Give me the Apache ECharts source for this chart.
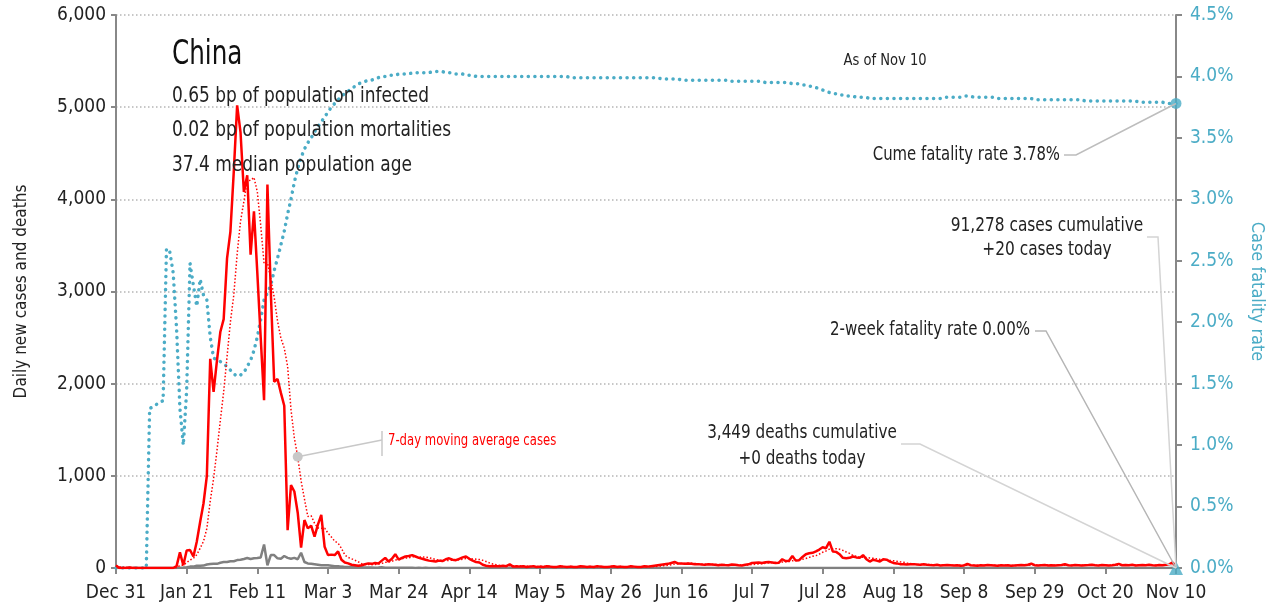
<!DOCTYPE html>
<html>
<head>
<meta charset="utf-8">
<title>China</title>
<script src="https://cdn.jsdelivr.net/npm/echarts@6/dist/echarts.min.js"></script>
<style>
  html, body { margin: 0; padding: 0; background: #fff; }
  #main { width: 1274px; height: 610px; }
</style>
</head>
<body>
<div id="main"></div>
<script>
// one category per day, 2019-12-31 .. 2020-11-10
var monthNames = ['Jan','Feb','Mar','Apr','May','Jun','Jul','Aug','Sep','Oct','Nov','Dec'];
var dates = [];
var d0 = new Date(2019, 11, 31);
for (var i = 0; i < 316; i++) {
    var dt = new Date(d0.getFullYear(), d0.getMonth(), d0.getDate() + i);
    dates.push(monthNames[dt.getMonth()] + ' ' + dt.getDate());
}

// daily new cases
var cases = [
    27,0,0,0,5,0,0,0,0,0,
    0,0,0,0,0,0,0,0,20,170,
    30,190,195,125,285,500,700,1000,2270,1910,
    2250,2560,2700,3360,3650,4300,5020,4730,4080,4260,
    3400,3870,3200,2500,1820,4160,3000,2020,2050,1900,
    1760,410,900,830,600,220,520,430,460,340,
    470,575,230,140,145,140,180,90,60,50,
    35,30,25,30,40,50,45,55,50,80,
    110,70,100,150,90,110,125,130,140,125,
    110,100,90,80,75,70,80,75,95,105,
    90,85,100,115,125,100,80,65,60,35,
    25,20,22,18,20,25,20,40,15,20,
    15,18,12,15,20,10,15,12,18,15,
    10,12,20,15,10,15,12,10,18,15,
    12,15,10,20,15,12,10,15,18,12,
    15,10,12,20,15,10,12,18,15,20,
    25,30,35,40,45,55,65,50,48,45,
    50,45,40,42,38,35,40,38,35,30,
    35,32,30,38,35,30,28,35,40,55,
    58,60,55,62,65,60,55,58,95,75,
    78,130,80,85,120,150,160,165,180,200,
    225,215,285,180,175,150,110,105,110,125,
    115,110,140,95,70,90,80,70,95,90,
    70,55,50,42,40,38,40,42,38,35,
    40,35,32,30,35,28,30,32,30,28,
    30,25,28,45,30,28,25,30,28,32,
    30,28,25,30,28,30,25,28,30,32,
    30,35,48,30,28,30,32,28,30,28,
    30,32,40,30,28,32,30,28,30,32,
    35,30,28,32,30,28,30,35,45,30,
    32,30,35,28,30,32,30,35,30,28,
    32,30,35,40,60,20
];

// daily new deaths
var deaths = [
    0,0,0,0,0,0,0,0,0,0,
    1,0,0,0,0,0,0,0,1,3,
    6,9,15,15,25,25,26,38,43,46,
    45,57,64,65,73,73,86,89,97,108,
    97,105,108,115,255,30,140,140,105,100,
    130,110,100,110,95,165,65,50,45,40,
    35,30,30,30,25,20,20,15,12,10,
    10,8,7,9,6,5,6,4,5,7,
    4,3,4,2,3,4,3,2,3,1,
    2,1,2,1,1,1,2,1,0,1,
    1,0,1,0,0,1,0,0,0,0,
    0,0,0,0,0,0,0,0,0,0,
    0,0,0,0,0,0,0,0,0,0,
    0,0,0,0,0,0,0,0,0,0,
    0,0,0,0,0,0,0,0,0,0,
    0,0,0,0,0,0,0,0,0,0,
    0,0,0,0,0,0,0,0,0,0,
    0,0,0,0,0,0,0,0,0,0,
    0,0,0,0,0,0,0,0,0,0,
    0,0,0,0,0,0,0,0,0,0,
    0,0,0,0,0,0,0,0,0,0,
    0,0,0,0,0,0,0,0,0,0,
    0,0,0,0,0,0,0,0,0,0,
    0,0,0,0,0,0,0,0,0,0,
    0,0,0,0,0,0,0,0,0,0,
    0,0,0,0,0,0,0,0,0,0,
    0,0,0,0,0,0,0,0,0,0,
    0,0,0,0,0,0,0,0,0,0,
    0,0,0,0,0,0,0,0,0,0,
    0,0,0,0,0,0,0,0,0,0,
    0,0,0,0,0,0,0,0,0,0,
    0,0,0,0,0,0
];

// cumulative case fatality rate, %
var cfr = [
    0,0,0,0,0,0,0,0,0,0,
    1.30,1.31,1.33,1.35,1.36,2.60,2.57,2.40,1.95,1.30,
    1.00,1.45,2.48,2.30,2.13,2.35,2.22,2.18,1.88,1.71,
    1.69,1.68,1.66,1.64,1.61,1.58,1.56,1.57,1.59,1.64,
    1.69,1.77,1.88,2.02,2.18,2.24,2.30,2.42,2.52,2.63,
    2.74,2.88,3.00,3.14,3.25,3.34,3.41,3.46,3.50,3.55,
    3.59,3.63,3.67,3.71,3.75,3.78,3.81,3.84,3.86,3.88,
    3.90,3.92,3.94,3.95,3.96,3.97,3.97,3.98,3.99,4.00,
    4.00,4.01,4.01,4.01,4.02,4.02,4.02,4.02,4.03,4.03,
    4.03,4.03,4.03,4.03,4.04,4.04,4.04,4.04,4.03,4.03,
    4.03,4.02,4.02,4.02,4.01,4.01,4.01,4.00,4.00,4.00,
    4.00,4.00,4.00,4.00,4.00,4.00,4.00,4.00,4.00,4.00,
    4.00,4.00,4.00,4.00,4.00,4.00,4.00,4.00,4.00,4.00,
    4.00,4.00,4.00,4.00,4.00,3.99,3.99,3.99,3.99,3.99,
    3.99,3.99,3.99,3.99,3.99,3.99,3.99,3.99,3.99,3.99,
    3.99,3.99,3.99,3.99,3.99,3.99,3.99,3.99,3.99,3.99,
    3.99,3.99,3.98,3.98,3.98,3.98,3.98,3.98,3.97,3.97,
    3.97,3.97,3.97,3.97,3.97,3.97,3.97,3.97,3.97,3.97,
    3.97,3.97,3.97,3.96,3.96,3.96,3.96,3.96,3.96,3.96,
    3.96,3.96,3.96,3.95,3.95,3.95,3.95,3.95,3.95,3.95,
    3.95,3.94,3.94,3.94,3.93,3.93,3.92,3.92,3.91,3.90,
    3.89,3.88,3.87,3.86,3.86,3.85,3.85,3.84,3.84,3.84,
    3.83,3.83,3.83,3.83,3.82,3.82,3.82,3.82,3.82,3.82,
    3.82,3.82,3.82,3.82,3.82,3.82,3.82,3.82,3.82,3.82,
    3.82,3.82,3.82,3.82,3.82,3.82,3.83,3.83,3.83,3.83,
    3.83,3.83,3.84,3.84,3.84,3.83,3.83,3.83,3.83,3.83,
    3.83,3.83,3.82,3.82,3.82,3.82,3.82,3.82,3.82,3.82,
    3.82,3.82,3.82,3.81,3.81,3.81,3.81,3.81,3.81,3.81,
    3.81,3.81,3.81,3.81,3.81,3.81,3.81,3.81,3.80,3.80,
    3.80,3.80,3.80,3.80,3.80,3.80,3.80,3.80,3.80,3.80,
    3.80,3.80,3.80,3.80,3.79,3.79,3.79,3.79,3.79,3.79,
    3.79,3.79,3.78,3.78,3.78,3.78
];

var twoWeekCfr = 0.00;

// 7-day trailing mean of the daily cases
var casesMA = [];
for (var i = 0; i < cases.length; i++) {
    var s = 0, n = 0;
    for (var j = Math.max(0, i - 6); j <= i; j++) { s += cases[j]; n++; }
    casesMA.push(Math.round(s / n));
}

var FONT = "'Liberation Sans Narrow','DejaVu Sans Condensed',sans-serif";
var TEAL = '#4bacc6';
var last = dates.length - 1;

var myChart = echarts.init(document.getElementById('main'));
var option = {
    animation: false,
    textStyle: { fontFamily: FONT },
    grid: { left: 116, right: 94, top: 15, bottom: 42 },
    xAxis: {
        type: 'category',
        data: dates,
        boundaryGap: false,
        axisLine: { lineStyle: { color: '#888', width: 2 } },
        axisTick: { interval: 20, length: 6, lineStyle: { color: '#888', width: 2 } },
        axisLabel: { interval: 20, color: '#222', fontSize: 19, margin: 16, fontFamily: FONT,
                     showMinLabel: true, showMaxLabel: true },
        splitLine: { show: false }
    },
    yAxis: [
        {
            type: 'value', min: 0, max: 6000, interval: 1000,
            name: 'Daily new cases and deaths',
            nameLocation: 'middle', nameGap: 86,
            nameTextStyle: { color: '#222', fontSize: 17, fontFamily: FONT },
            axisLine: { show: true, lineStyle: { color: '#888', width: 2 } },
            axisTick: { show: true, length: 5, lineStyle: { color: '#888', width: 2 } },
            axisLabel: { color: '#222', fontSize: 19, fontFamily: FONT, margin: 10,
                         formatter: function (v) { return v.toLocaleString('en-US'); } },
            splitLine: { lineStyle: { color: '#b5b5b5', type: [1.5, 2.5], width: 1.5 } }
        },
        {
            type: 'value', min: 0, max: 4.5, interval: 0.5, position: 'right',
            name: 'Case fatality rate',
            nameLocation: 'middle', nameGap: 72, nameRotate: -90,
            nameTextStyle: { color: TEAL, fontSize: 18, fontFamily: FONT },
            axisLine: { show: true, lineStyle: { color: '#888', width: 2 } },
            axisTick: { show: true, length: 6, lineStyle: { color: '#888', width: 2 } },
            axisLabel: { color: TEAL, fontSize: 19, fontFamily: FONT, margin: 14,
                         formatter: function (v) { return v.toFixed(1) + '%'; } },
            splitLine: { show: false }
        }
    ],
    series: [
        {
            name: 'Case fatality rate', type: 'line', yAxisIndex: 1, data: cfr,
            showSymbol: false, symbol: 'none', z: 2,
            lineStyle: { color: TEAL, width: 3.5, type: [0.1, 6.5], cap: 'round' }
        },
        {
            name: 'Deaths', type: 'line', data: deaths, showSymbol: false, symbol: 'none', z: 3,
            lineStyle: { color: '#808080', width: 2.5 }
        },
        {
            name: '7-day moving average cases', type: 'line', data: casesMA,
            showSymbol: false, symbol: 'none', z: 4,
            lineStyle: { color: '#ff0000', width: 1.5, type: [1.5, 2] }
        },
        {
            name: 'Cases', type: 'line', data: cases, showSymbol: false, symbol: 'none', z: 5,
            lineStyle: { color: '#ff0000', width: 2.5 }
        },
        {
            name: 'Cume CFR', type: 'scatter', yAxisIndex: 1, z: 6,
            data: [[dates[last], cfr[last]]],
            symbol: 'circle', symbolSize: 11, itemStyle: { color: TEAL }
        },
        {
            name: '2-week CFR', type: 'scatter', yAxisIndex: 1, z: 6,
            data: [[dates[last], twoWeekCfr]],
            symbol: 'triangle', symbolSize: 14, itemStyle: { color: TEAL }
        }
    ]
};
myChart.setOption(option);

// annotations: leader lines end on the data points
var pCfr = myChart.convertToPixel({ xAxisIndex: 0, yAxisIndex: 1 }, [dates[last], cfr[last]]);
var pZero = myChart.convertToPixel({ xAxisIndex: 0, yAxisIndex: 1 }, [dates[last], twoWeekCfr]);
var pMa = myChart.convertToPixel({ xAxisIndex: 0, yAxisIndex: 0 }, [dates[54], casesMA[54]]);

// the fonts on hand are wider than the original condensed face, so squeeze them a little
function txt(x, y, text, size, align, color, sx) {
    return { type: 'text', x: x, y: y, z: 20, scaleX: sx || 0.89,
             style: { text: text, font: size + 'px ' + FONT, fill: color || '#222',
                      align: align || 'left', verticalAlign: 'middle' } };
}
function leader(points, color) {
    return { type: 'polyline', z: 15, shape: { points: points },
             style: { stroke: color || '#c8c8c8', lineWidth: 1.5, fill: null } };
}

myChart.setOption({
    graphic: [
        txt(172, 55, 'China', 33, 'left', '#111', 0.83),
        txt(172, 97, '0.65 bp of population infected', 21, 'left', '#222', 0.9),
        txt(172, 131, '0.02 bp of population mortalities', 21, 'left', '#222', 0.9),
        txt(172, 166, '37.4 median population age', 21, 'left', '#222', 0.9),
        txt(885, 61, 'As of Nov 10', 16, 'center', '#222', 0.91),

        txt(1060, 155, 'Cume fatality rate 3.78%', 19, 'right', '#222', 0.87),
        leader([[1064, 155], [1076, 155], pCfr], '#bdbdbd'),

        txt(1047, 226, '91,278 cases cumulative', 19, 'center', '#222', 0.9),
        txt(1047, 250, '+20 cases today', 19, 'center', '#222', 0.9),
        leader([[1147, 237], [1158, 237], pZero], '#d4d4d4'),

        txt(1030, 330, '2-week fatality rate 0.00%', 19, 'right', '#222', 0.88),
        leader([[1035, 331], [1046, 331], pZero], '#b5b5b5'),

        txt(802, 433, '3,449 deaths cumulative', 19, 'center', '#222', 0.89),
        txt(802, 459, '+0 deaths today', 19, 'center', '#222', 0.89),
        leader([[901, 444], [920, 444], pZero], '#d4d4d4'),

        { type: 'circle', z: 16, shape: { cx: pMa[0], cy: pMa[1], r: 5 }, style: { fill: '#c8c8c8' } },
        leader([pMa, [382, 440]], '#c8c8c8'),
        leader([[382, 431], [382, 456]], '#c8c8c8'),
        txt(388, 441, '7-day moving average cases', 16, 'left', '#ff0000', 0.81)
    ]
});
</script>
</body>
</html>
